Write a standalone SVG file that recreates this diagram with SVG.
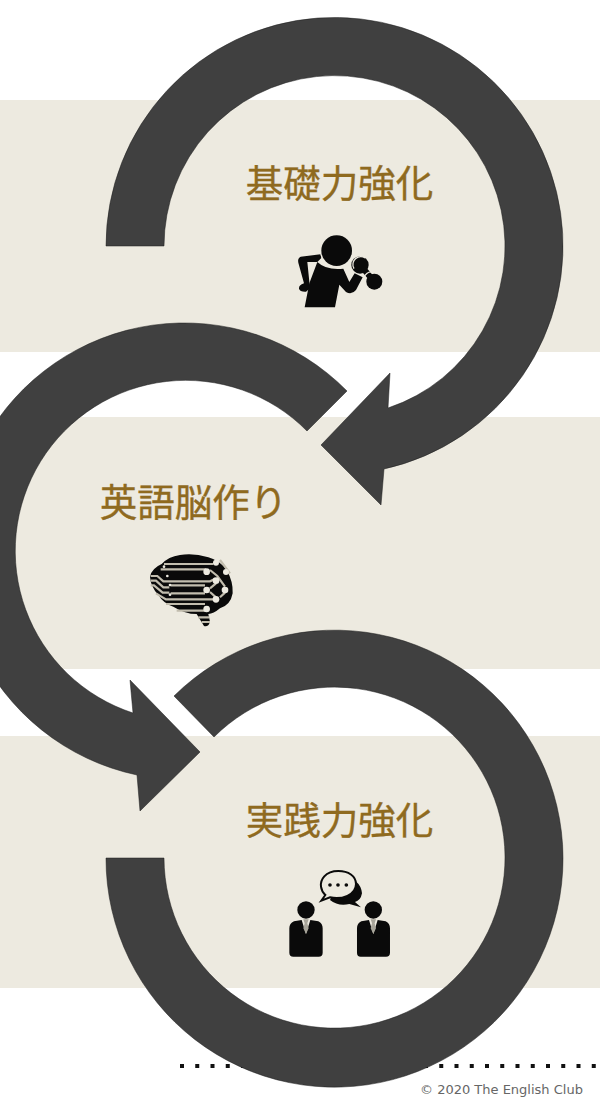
<svg xmlns="http://www.w3.org/2000/svg" width="600" height="1109" viewBox="0 0 600 1109">
<style>
.band{fill:#edeae0}
.ring{fill:#404040;stroke:#1c1c1c;stroke-width:.5}
.title{font-family:"Noto Sans CJK JP","Noto Sans CJK SC",sans-serif;font-size:37.5px;fill:#8f6a1f;stroke:#8f6a1f;stroke-width:.35;text-anchor:middle}
.ink{fill:#0a0a0a}
.wire{fill:none;stroke:#c2bdae;stroke-width:6.5}
.pad{fill:#edeae0}
.gap{fill:none;stroke:#edeae0;stroke-width:4}
</style>
<rect width="600" height="1109" fill="#fff"/>
<g id="bands">
<rect class="band" y="100" width="600" height="252"/>
<rect class="band" y="417" width="600" height="252"/>
<rect class="band" y="736" width="600" height="252"/>
</g>
<g id="rule"><line x1="180" y1="1066" x2="600" y2="1066" stroke="#111" stroke-width="4" stroke-dasharray="4 11.25"/></g>
<g id="connectors">
<path class="ring" d="M106,246 A228.5,228.5 0 1 1 384,469 L381,505 L321,445 L390,373 L388,408 A170.5,170.5 0 1 0 164,246 Z"/>
<path class="ring" d="M347,391 A228.5,228.5 0 1 0 137,775 L140,811 L200,752 L130,680 L133,713 A170.5,170.5 0 1 1 307,431 Z"/>
<path class="ring" d="M174,696 A228.5,228.5 0 1 1 106,858 L164,858 A170.5,170.5 0 1 0 214,737 Z"/>
</g>
<g id="node-basic">
<text class="title" x="339.5" y="197">基礎力強化</text>
<g transform="translate(280,220) scale(.3333)">
<path class="ink" d="M122,103 L62,110 Q52,114 55,128 L72,190 Q56,195 57,206 Q60,216 78,215 L90,205 L82,126 L112,126 L124,114 Z"/>
<path class="ink" d="M112,126 Q140,152 190,146 L208,186 L224,160 L248,172 L228,210 Q215,226 198,216 L178,194 L165,262 L74,262 L88,190 Z"/>
<circle cx="170" cy="92" r="50" fill="#edeae0"/>
<circle class="ink" cx="170" cy="92" r="46"/>
<path stroke="#0a0a0a" stroke-width="18" d="M238,132 L283,185" fill="none"/>
<circle class="ink" cx="240" cy="135" r="26"/>
<circle class="ink" cx="283" cy="185" r="24"/>
<path class="gap" d="M222,146 A24,24 0 0 1 256,114"/>
<path class="gap" d="M252,174 A22,22 0 0 1 276,156"/>
</g>
</g>
<g id="node-brain">
<text class="title" x="193.5" y="516">英語脳作り</text>
<g transform="translate(130,540) scale(.3333)">
<path class="ink" d="M60,110 Q65,85 95,72 Q115,50 150,45 Q190,38 235,52 Q270,62 290,90 Q310,125 308,160 Q302,195 270,205 Q250,222 235,222 L240,245 Q235,262 222,258 L200,222 Q165,222 130,200 Q100,190 85,165 Q62,140 60,110 Z"/>
<path class="wire" d="M102,72 H250"/>
<path class="wire" d="M92,88 H228"/>
<path class="wire" d="M62,108 H82 L100,124 H240 L256,116"/>
<path class="wire" d="M62,122 H78 L100,142 H118"/>
<path class="wire" d="M62,136 H72 L98,158 H118"/>
<path class="wire" d="M122,136 H225 M122,160 H225"/>
<path class="wire" d="M78,160 L108,178 H250"/>
<path class="wire" d="M108,192 H225"/>
<path class="wire" d="M140,212 H225 M205,232 H238 M215,246 H240"/>
<path class="wire" d="M240,90 L262,108 L285,140 M240,145 L258,130 M240,156 L258,172 M270,172 L285,158 M270,60 L300,100"/>
<g class="pad"><circle cx="230" cy="95" r="10"/><circle cx="258" cy="122" r="10"/><circle cx="230" cy="150" r="10"/><circle cx="285" cy="150" r="10"/><circle cx="258" cy="178" r="10"/><circle cx="230" cy="207" r="10"/><circle cx="258" cy="68" r="9"/><circle cx="288" cy="96" r="9"/><circle cx="102" cy="80" r="4"/><circle cx="112" cy="108" r="4"/><circle cx="120" cy="135" r="4"/><circle cx="120" cy="164" r="4"/></g>
</g>
</g>
<g id="node-practice">
<text class="title" x="339.5" y="834">実践力強化</text>
<g transform="translate(270,860) scale(.3333)">
<path class="ink" d="M215,50 Q272,55 276,100 Q272,122 255,126 L273,142 L238,132 Q205,140 180,120 Z"/>
<path d="M205,33 C165,33 150,60 153,80 Q155,95 166,105 L154,122 L180,112 C215,120 258,105 258,72 C258,48 235,33 205,33 Z" fill="#edeae0" stroke="#0a0a0a" stroke-width="6"/>
<circle class="ink" cx="180" cy="75" r="5.5"/><circle class="ink" cx="204" cy="75" r="5.5"/><circle class="ink" cx="229" cy="75" r="5.5"/>
<circle class="ink" cx="108" cy="150" r="26"/>
<circle class="ink" cx="310" cy="150" r="26"/>
<path class="ink" d="M72,184 L95,180 L108,222 L121,180 L145,184 Q158,190 158,205 V278 Q158,290 146,290 H70 Q58,290 58,278 V205 Q58,190 72,184 Z"/>
<path class="ink" d="M274,184 L297,180 L310,222 L323,180 L347,184 Q360,190 360,205 V278 Q360,290 348,290 H272 Q261,290 261,278 V205 Q261,190 274,184 Z"/>
<path d="M100,178 H116 L112,190 L116,205 L108,222 L100,205 L104,190 Z" fill="#a8a59a"/>
<path d="M302,178 H318 L314,190 L318,205 L310,222 L302,205 L306,190 Z" fill="#a8a59a"/>
</g>
</g>
<g id="footer"><text x="420" y="1094" font-family="'DejaVu Sans',Verdana,sans-serif" font-size="13px" fill="#666">© 2020 The English Club</text></g>
</svg>
